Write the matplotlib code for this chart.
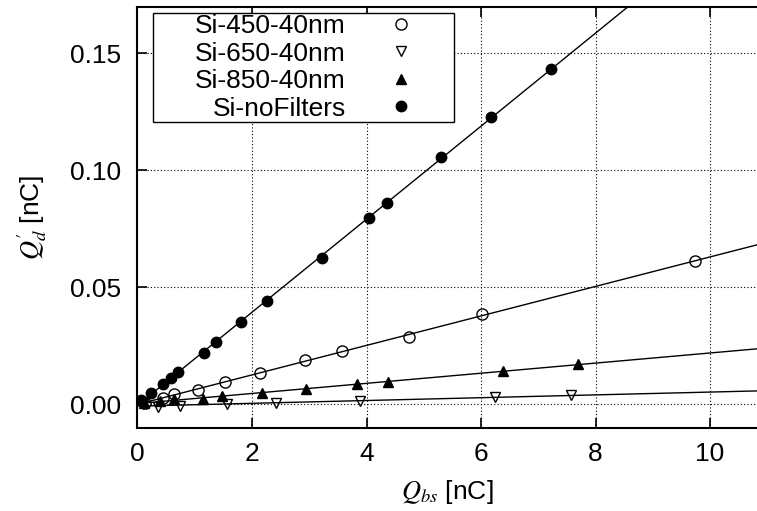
import matplotlib
matplotlib.use('Agg')
import matplotlib.pyplot as plt
from matplotlib.path import Path
import numpy as np

plt.rcParams['font.family'] = ['Liberation Sans', 'DejaVu Sans']
plt.rcParams['mathtext.fontset'] = 'stix'

# Q_bs [nC] vs Q_d' [nC]
x_450 = [0.13, 0.45, 0.64, 1.05, 1.53, 2.14, 2.93, 3.57, 4.74, 6.02, 9.74]
y_450 = [0.0006, 0.0027, 0.0041, 0.0062, 0.0093, 0.0134, 0.0190, 0.0226, 0.0287, 0.0383, 0.0612]

x_650 = [0.10, 0.36, 0.74, 1.56, 2.42, 3.89, 6.24, 7.57]
y_650 = [0.0002, -0.0011, -0.0009, -0.0001, 0.0006, 0.0013, 0.0029, 0.0038]

x_850 = [0.12, 0.40, 0.64, 1.14, 1.48, 2.17, 2.94, 3.83, 4.38, 6.39, 7.70]
y_850 = [0.0006, 0.0014, 0.0020, 0.0021, 0.0034, 0.0049, 0.0063, 0.0084, 0.0095, 0.0141, 0.0171]

x_nof = [0.07, 0.24, 0.44, 0.59, 0.70, 1.17, 1.37, 1.81, 2.27, 3.22, 4.04, 4.36, 5.30, 6.17, 7.22]
y_nof = [0.0017, 0.0046, 0.0087, 0.0112, 0.0138, 0.0219, 0.0266, 0.0352, 0.0440, 0.0625, 0.0795, 0.0859, 0.1056, 0.1226, 0.1432]

series = [
    ('Si-450-40nm', x_450, y_450, dict(marker='o', mfc='none', ms=8)),
    ('Si-650-40nm', x_650, y_650, dict(marker='v', mfc='none', ms=7.5)),
    ('Si-850-40nm', x_850, y_850, dict(marker='^', mfc='black', ms=7.5)),
    ('Si-noFilters', x_nof, y_nof, dict(marker='o', mfc='black', ms=7.5)),
]


def left_padded_box(x0, y0, width, height, mutation_size):
    # gnuplot-like key box: extra room on the left of the right-aligned labels
    ext = 1.55 * mutation_size
    return Path([(x0 - ext, y0), (x0 + width, y0), (x0 + width, y0 + height),
                 (x0 - ext, y0 + height), (x0 - ext, y0)], closed=True)


fig = plt.figure(figsize=(7.57, 5.11), dpi=100)
ax = fig.add_axes([0.1816, 0.163, 0.8184, 0.8233])

xmin, xmax = 0, 10.82
xx = np.linspace(xmin, xmax, 200)
for name, xs, ys, st in series:
    k, b = np.polyfit(xs, ys, 1)
    ax.plot(xx, k * xx + b, color='black', lw=1.0, zorder=2)
    ax.plot(xs, ys, linestyle='none', color='black', mec='black', mew=1.0,
            label=name, zorder=3, **st)

ax.set_xlim(xmin, xmax)
ax.set_ylim(-0.0101, 0.1697)
ax.set_xticks([0, 2, 4, 6, 8, 10])
ax.set_yticks([0.0, 0.05, 0.10, 0.15])
ax.yaxis.set_major_formatter(matplotlib.ticker.FormatStrFormatter('%.2f'))
ax.grid(True, linestyle=(0, (1, 2)), color='black', lw=0.8)
ax.tick_params(direction='in', length=7, width=1.2, labelsize=19, top=True, right=False)
ax.tick_params(axis='y', pad=12)
ax.tick_params(axis='x', pad=10)
for s in ['left', 'bottom', 'top']:
    ax.spines[s].set_linewidth(1.5)
ax.spines['right'].set_visible(False)

ax.set_xlabel(r'$Q_{bs}$ [nC]', fontsize=19, labelpad=9)
ax.set_ylabel(r"$Q_d'$ [nC]", fontsize=19, labelpad=15)

leg = ax.legend(loc='upper left', bbox_to_anchor=(0.0912, 0.986), borderaxespad=0,
                markerfirst=False, fontsize=19, frameon=True, fancybox=False,
                edgecolor='black', framealpha=1, borderpad=0.05, labelspacing=0.13,
                handlelength=3.94, handletextpad=0.11)
leg.get_frame().set_linewidth(1.0)
leg.get_frame().set_boxstyle(left_padded_box)

fig.savefig('out.png', dpi=100)
